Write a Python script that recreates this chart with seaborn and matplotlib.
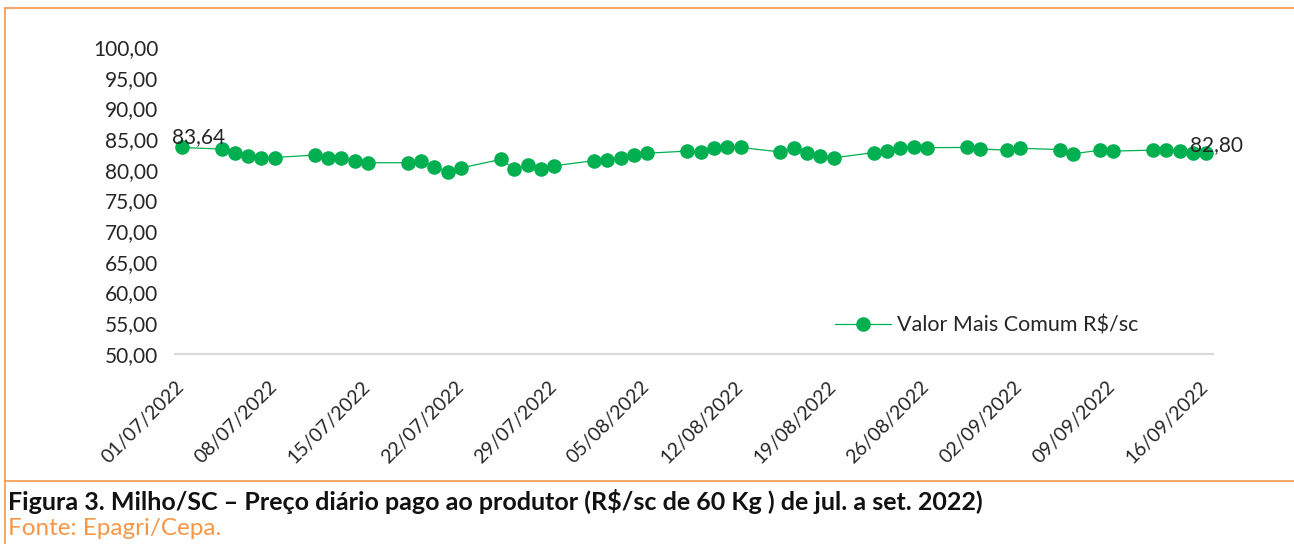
import pandas as pd
import matplotlib.pyplot as plt
import matplotlib.dates as mdates
from matplotlib.lines import Line2D
import seaborn as sns

# dias úteis com cotação (jul. a set. 2022)
dates = [
    '01/07/2022', '04/07/2022', '05/07/2022', '06/07/2022', '07/07/2022', '08/07/2022',
    '11/07/2022', '12/07/2022', '13/07/2022', '14/07/2022', '15/07/2022',
    '18/07/2022', '19/07/2022', '20/07/2022', '21/07/2022', '22/07/2022',
    '25/07/2022', '26/07/2022', '27/07/2022', '28/07/2022', '29/07/2022',
    '01/08/2022', '02/08/2022', '03/08/2022', '04/08/2022', '05/08/2022',
    '08/08/2022', '09/08/2022', '10/08/2022', '11/08/2022', '12/08/2022',
    '15/08/2022', '16/08/2022', '17/08/2022', '18/08/2022', '19/08/2022',
    '22/08/2022', '23/08/2022', '24/08/2022', '25/08/2022', '26/08/2022',
    '29/08/2022', '30/08/2022',
    '01/09/2022', '02/09/2022', '05/09/2022', '06/09/2022', '08/09/2022', '09/09/2022',
    '12/09/2022', '13/09/2022', '14/09/2022', '15/09/2022', '16/09/2022',
]
values = [
    83.64, 83.37, 82.70, 82.30, 82.00, 82.00,
    82.40, 82.00, 81.85, 81.50, 81.15,
    81.15, 81.40, 80.50, 79.70, 80.30,
    81.70, 80.10, 80.70, 80.20, 80.65,
    81.50, 81.60, 81.95, 82.40, 82.70,
    83.05, 82.90, 83.50, 83.70, 83.64,
    82.90, 83.50, 82.70, 82.20, 81.95,
    82.80, 83.10, 83.50, 83.70, 83.60,
    83.64, 83.40,
    83.20, 83.50, 83.30, 82.60, 83.20, 83.05,
    83.20, 83.20, 83.00, 82.80, 82.80,
]
series_name = 'Valor Mais Comum R$/sc'
y_ticks = [50, 55, 60, 65, 70, 75, 80, 85, 90, 95, 100]
tick_dates = pd.date_range('2022-07-01', '2022-09-16', freq='7D')

green = '#00B050'
orange = '#F79646'

sns.set_style('white')
plt.rcParams['font.family'] = ['Lato', 'DejaVu Sans']

df = pd.DataFrame({
    'data': pd.to_datetime(dates, format='%d/%m/%Y') + pd.Timedelta(hours=12),
    'valor': values,
})

fig = plt.figure(figsize=(12.94, 5.44), dpi=100)
ax = fig.add_axes([0.1352, 0.3493, 0.8022, 0.5643])

sns.lineplot(data=df, x='data', y='valor', ax=ax, color=green, linewidth=0.9,
             marker='o', markersize=10.5, markeredgewidth=0, label=series_name)

ax.set_ylim(50, 100)
ax.set_yticks(y_ticks)
ax.set_yticklabels([f'{v:.2f}'.replace('.', ',') for v in y_ticks], fontsize=15)
ax.set_xlim(pd.Timestamp('2022-07-01'), pd.Timestamp('2022-09-17'))
ax.set_xticks(tick_dates)
ax.xaxis.set_major_formatter(mdates.DateFormatter('%d/%m/%Y'))
plt.setp(ax.get_xticklabels(), rotation=45, ha='right', va='top',
         rotation_mode='anchor', fontsize=14)
ax.tick_params(axis='x', length=5, color='#D9D9D9', width=1.2, pad=12)
ax.tick_params(axis='y', length=0, pad=12)
ax.set_xlabel('')
ax.set_ylabel('')

for side in ['top', 'right', 'left']:
    ax.spines[side].set_visible(False)
ax.spines['bottom'].set_color('#D9D9D9')
ax.spines['bottom'].set_linewidth(1.5)

# rótulos do primeiro e do último valor
first, last = df.iloc[0], df.iloc[-1]
ax.annotate(f"{first['valor']:.2f}".replace('.', ','), (first['data'], first['valor']),
            xytext=(-7, 0), textcoords='offset points', ha='left', va='bottom', fontsize=15)
ax.annotate(f"{last['valor']:.2f}".replace('.', ','), (last['data'], last['valor']),
            xytext=(-12, -2), textcoords='offset points', ha='left', va='bottom', fontsize=15)

ax.legend(loc='center left', bbox_to_anchor=(0.617, 0.094), frameon=False,
          fontsize=15.5, handlelength=2.6, handletextpad=0.3)

# moldura laranja
fig.add_artist(Line2D([0.004, 1.0], [0.985, 0.985], color=orange, linewidth=1.2))
fig.add_artist(Line2D([0.004, 0.004], [0.985, 0.0], color=orange, linewidth=1.2))
fig.add_artist(Line2D([0.004, 1.0], [0.116, 0.116], color=orange, linewidth=1.2))

fig.text(0.006, 0.062,
         'Figura 3. Milho/SC – Preço diário pago ao produtor (R$/sc de 60 Kg ) de jul. a set. 2022)',
         fontsize=18, fontweight='bold', color='#111111')
fig.text(0.006, 0.016, 'Fonte: Epagri/Cepa.', fontsize=17.5, color=orange)

fig.savefig('out.png', dpi=100)
